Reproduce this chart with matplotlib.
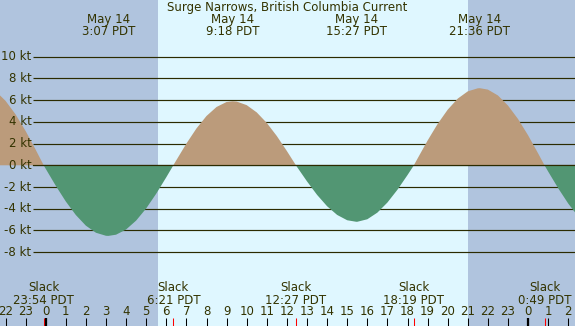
# tidal current chart for Surge Narrows, May 14

import matplotlib
matplotlib.use("Agg")
import matplotlib.pyplot as plt

# current speed (kt), hours from midnight May 14
hours = [-2.5, -2.0, -1.5, -1.0, -0.5, -0.1, 0.0, 0.5, 1.0, 1.5, 2.0, 2.5, 3.0,
         3.117, 3.5, 4.0, 4.5, 5.0, 5.5, 6.0, 6.35, 6.5, 7.0, 7.5, 8.0, 8.5,
         9.0, 9.3, 9.5, 10.0, 10.5, 11.0, 11.5, 12.0, 12.45, 12.5, 13.0, 13.5,
         14.0, 14.5, 15.0, 15.45, 15.5, 16.0, 16.5, 17.0, 17.5, 18.0, 18.317,
         18.5, 19.0, 19.5, 20.0, 20.5, 21.0, 21.5, 21.6, 22.0, 22.5, 23.0,
         23.5, 24.0, 24.5, 24.817, 25.0, 25.5, 26.0, 26.5]
speed = [6.84, 5.94, 4.69, 3.16, 1.44, 0.0, -0.32, -1.88, -3.33, -4.58, -5.56,
         -6.21, -6.49, -6.5, -6.39, -5.91, -5.09, -3.97, -2.61, -1.10, 0.0,
         0.47, 2.00, 3.39, 4.54, 5.37, 5.83, 5.9, 5.87, 5.54, 4.87, 3.90, 2.69,
         1.31, 0.0, -0.14, -1.48, -2.72, -3.77, -4.57, -5.06, -5.2, -5.20,
         -4.97, -4.36, -3.43, -2.25, -0.90, 0.0, 0.62, 2.28, 3.81, 5.12, 6.14,
         6.81, 7.09, 7.1, 6.97, 6.43, 5.50, 4.26, 2.76, 1.09, 0.0, -0.58,
         -2.12, -3.53, -4.73]

# max flood / ebb events
peak_hours = [3.117, 9.3, 15.45, 21.6]
peak_labels = ["3:07", "9:18", "15:27", "21:36"]

# slack water events
slack_hours = [-0.1, 6.35, 12.45, 18.317, 24.817]
slack_labels = ["23:54", "6:21", "12:27", "18:19", "0:49"]

sunrise = 5.57
sunset = 21.0

kt_levels = [10, 8, 6, 4, 2, 0, -2, -4, -6, -8]
hour_ticks = list(range(-2, 27))
midnights = [0, 24]

W, H = 575, 326
fig = plt.figure(figsize=(W / 100, H / 100), dpi=100)
ax = fig.add_axes([0, 0, 1, 1])
ax.set_xlim(-45.7 / 20.1, (W - 45.7) / 20.1)
ax.set_ylim((165.3 - H) / 10.86, 165.3 / 10.86)
ax.axis("off")

txt = "#333300"
line_c = "#2b2b00"
fs = 8.5

# night / day background
night = "#b0c4de"
day = "#dff7ff"
ax.axvspan(-10, sunrise, color=night, lw=0, zorder=0)
ax.axvspan(sunrise, sunset, color=day, lw=0, zorder=0)
ax.axvspan(sunset, 40, color=night, lw=0, zorder=0)

# speed grid lines + labels
ytr = ax.get_yaxis_transform()
ax.hlines(kt_levels, 33.3 / W, 1, transform=ytr, color=line_c, lw=0.85, zorder=1)
for k in kt_levels:
    ax.text(31.5 / W, k, "%d kt" % k, transform=ytr, ha="right", va="center",
            fontsize=fs, color=txt, zorder=4)

# flood / ebb areas
ax.fill_between(hours, speed, 0, where=[s >= 0 for s in speed],
                color="#bb9b7b", lw=0, zorder=2, interpolate=True)
ax.fill_between(hours, speed, 0, where=[s <= 0 for s in speed],
                color="#529673", lw=0, zorder=2, interpolate=True)
ax.axhline(0, xmin=33.3 / W, color=line_c, lw=0.85, zorder=3)

xtr = ax.get_xaxis_transform()

# title and peak labels
ax.text(287.3 / W, 1 - 7.7 / H, "Surge Narrows, British Columbia Current",
        transform=ax.transAxes, ha="center", va="center", fontsize=fs, color=txt)
for h, lab in zip(peak_hours, peak_labels):
    ax.text(h, 1 - 20 / H, "May 14", transform=xtr, ha="center", va="center",
            fontsize=fs, color=txt, zorder=4)
    ax.text(h, 1 - 31.7 / H, lab + " PDT", transform=xtr, ha="center",
            va="center", fontsize=fs, color=txt, zorder=4)

# slack labels
for h, lab in zip(slack_hours, slack_labels):
    ax.text(h, 1 - 287.7 / H, "Slack", transform=xtr, ha="center", va="center",
            fontsize=fs, color=txt, zorder=4)
    ax.text(h, 1 - 300 / H, lab + " PDT", transform=xtr, ha="center",
            va="center", fontsize=fs, color=txt, zorder=4)

# hour ticks
tick_top = 8.3 / H
ax.vlines(hour_ticks, 0, tick_top, transform=xtr, color="black", lw=0.75, zorder=3)
ax.vlines(slack_hours, 0, tick_top, transform=xtr, color="red", lw=0.75, zorder=3)
ax.vlines(midnights, 0, tick_top, transform=xtr, color="black", lw=1.6, zorder=3)
for h in hour_ticks:
    ax.text(h, 1 - 311.7 / H, str(h % 24), transform=xtr, ha="center",
            va="center", fontsize=fs, color=txt, zorder=4)

fig.savefig("out.png", dpi=100)
